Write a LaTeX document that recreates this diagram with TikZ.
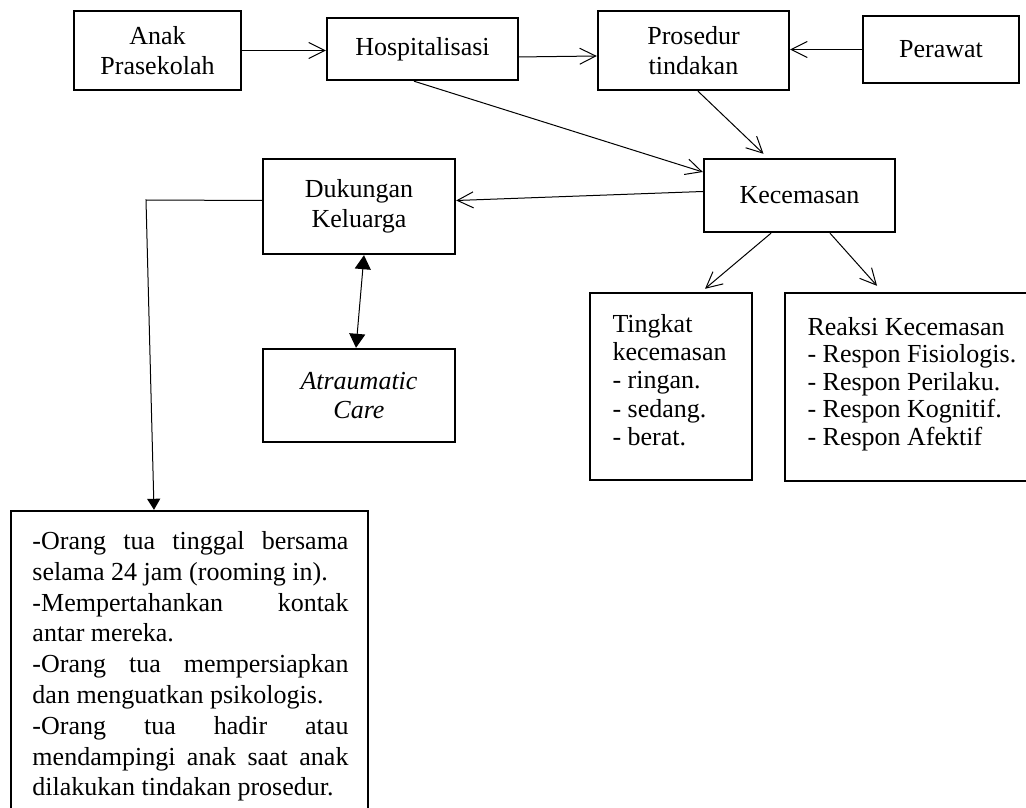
\documentclass[tikz,border=0pt]{standalone}
\usepackage{fontspec}
\setmainfont{Liberation Serif}
\usetikzlibrary{arrows.meta}

\begin{document}
\begin{tikzpicture}[x=0.5pt,y=-0.5pt,line width=0.5pt,
	>={Straight Barb[length=8pt,width=8pt]},
	box/.style={draw,line width=1.2pt,inner sep=0pt,align=center,font=\fontsize{13}{14.75}\selectfont},
	list/.style={inner sep=0pt,align=left,anchor=north west},
	tip/.style={-{Triangle[length=5.5pt,width=6.5pt]}}]
	\useasboundingbox (0,0) rectangle (1026,807);
	\node[box,minimum width=83.5pt,minimum height=39.5pt] (anak) at (157.5,50.5) {Anak\\Prasekolah};
	\node[box,minimum width=95.5pt,minimum height=31pt] (hosp) at (422.5,49) {Hospitalisasi};
	\node[box,minimum width=95.5pt,minimum height=39.5pt] (prosedur) at (693.5,50.5) {Prosedur\\tindakan};
	\node[box,minimum width=78pt,minimum height=33.5pt] (perawat) at (941,49.5) {Perawat};
	\node[box,minimum width=95.5pt,minimum height=36.5pt] (cemas) at (799.5,195.5) {Kecemasan};
	\node[box,minimum width=96pt,minimum height=47.5pt] (dukungan) at (359,206.5) {Dukungan\\Keluarga};
	\node[box,minimum width=96pt,minimum height=46.5pt,font=\fontsize{13}{14.75}\selectfont\itshape] (atraumatic) at (359,395.5) {Atraumatic\\Care};
	\node[box,minimum width=81pt,minimum height=93.5pt] (tingkat) at (671,386.5) {};
	\node[box,minimum width=122.5pt,minimum height=94pt] (reaksi) at (907.5,387) {};
	\node[box,minimum width=178.5pt,minimum height=152pt] (orangtua) at (189.5,663) {};
	% isi kotak
	\node[list,font=\fontsize{13}{14.1}\selectfont] (tingkatisi) at (612,314)
		{Tingkat\\kecemasan\\- ringan.\\- sedang.\\- berat.};
	\node[list,font=\fontsize{13}{13.7}\selectfont] (reaksiisi) at (807,317)
		{Reaksi Kecemasan\\- Respon Fisiologis.\\- Respon Perilaku.\\- Respon Kognitif.\\- Respon Afektif};
	\node[list,text width=158pt,align=justify,font=\fontsize{13}{15.4}\selectfont] (orangtuaisi) at (32,531)
		{-Orang tua tinggal bersama\linebreak selama 24 jam (rooming in).\\
		-Mempertahankan kontak\linebreak antar mereka.\\
		-Orang tua mempersiapkan\linebreak dan menguatkan psikologis.\\
		-Orang tua hadir atau\linebreak mendampingi anak saat anak\linebreak dilakukan tindakan prosedur.};
	% panah
	\coordinate (belok) at (146,200);
	\draw[->] (anak.east) -- (anak.east -| hosp.west);
	\draw[->] ([xshift=-1pt,yshift=-4pt]hosp.east) -- ([yshift=-2.75pt]prosedur.west);
	\draw[->] (perawat.west) -- (perawat.west -| prosedur.east);
	\draw[->] ([xshift=-4.25pt]hosp.south) -- ([yshift=11.75pt]cemas.west);
	\draw[->] ([xshift=2.25pt]prosedur.south) -- ([xshift=-18pt,yshift=2pt]cemas.north);
	\draw[->] ([yshift=2pt]cemas.west) -- ([yshift=3pt]dukungan.east);
	\draw[tip] ([yshift=3pt]dukungan.west) -- (belok) -- ([xshift=-17.75pt]orangtua.north);
	\draw[{Triangle[length=7pt,width=8pt]}-{Triangle[length=7pt,width=8pt]}]
		([xshift=2.5pt]dukungan.south) -- ([xshift=-1.5pt]atraumatic.north);
	\draw[->] ([xshift=-14.25pt]cemas.south) -- ([xshift=17pt,yshift=1.5pt]tingkat.north);
	\draw[->] ([xshift=15.25pt]cemas.south) -- ([xshift=-15.25pt,yshift=3pt]reaksi.north);
\end{tikzpicture}
\end{document}
